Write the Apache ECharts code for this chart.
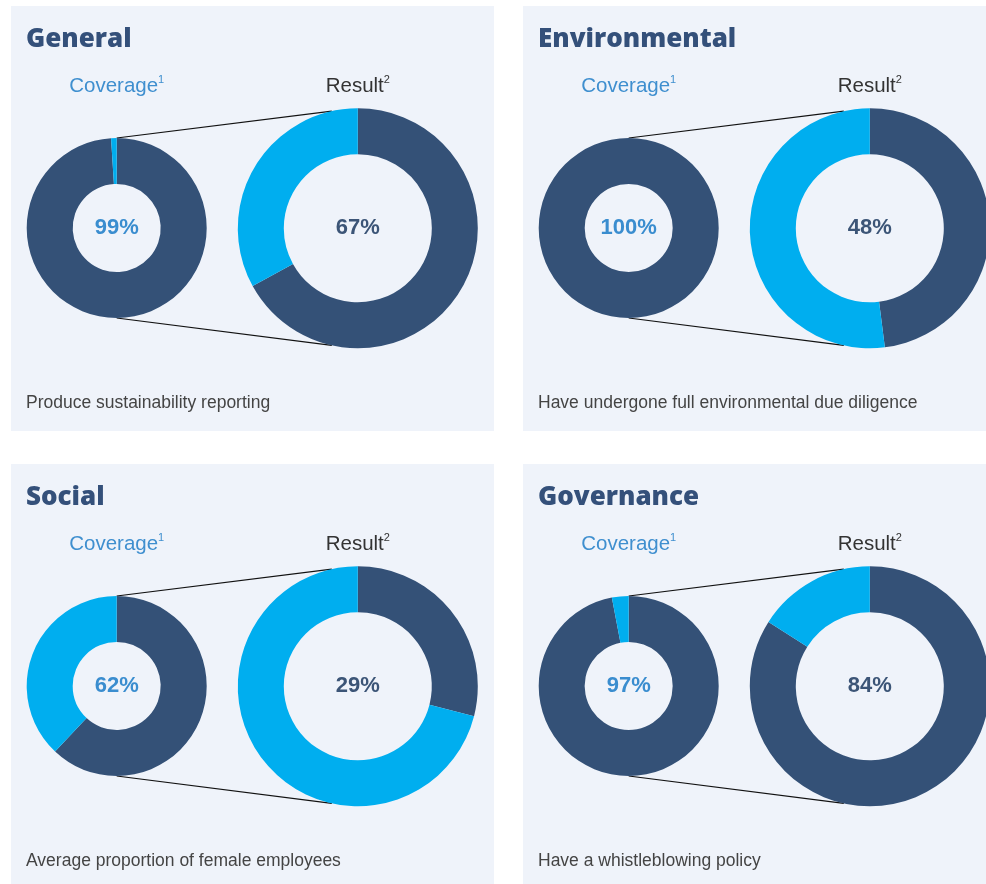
<!DOCTYPE html>
<html>
<head>
<meta charset="utf-8">
<script src="https://cdn.jsdelivr.net/npm/echarts@6/dist/echarts.min.js"></script>
<style>
  html, body { margin: 0; padding: 0; background: #ffffff; }
  #chart { width: 986px; height: 884px; }
</style>
</head>
<body>
<div id="chart"></div>
<script>
// ESG indicators: coverage of the portfolio and the result within it
const panelTitles = ['General', 'Environmental', 'Social', 'Governance'];
const descriptions = [
  'Produce sustainability reporting',
  'Have undergone full environmental due diligence',
  'Average proportion of female employees',
  'Have a whistleblowing policy'
];
const coverage = [99, 100, 62, 97];
const result = [67, 48, 29, 84];
const coverageLabel = 'Coverage';
const resultLabel = 'Result';

// layout
const NAVY = '#345177';
const CYAN = '#00aeef';
const PANEL_BG = '#eff3fa';
const origins = [[11, 6], [523, 6], [11, 464], [523, 464]];
const panelW = [483, 463, 483, 463];
const panelH = [425, 425, 420, 420];
const SMALL = { dx: 105.7, dy: 222, r0: 44, r1: 90 };
const BIG = { dx: 346.8, dy: 222.3, r0: 74, r1: 120 };
const CONNECT_ANGLE = 12.5 * Math.PI / 180;

const chart = echarts.init(document.getElementById('chart'), null, { renderer: 'canvas' });

const series = [];
const graphics = [];

function headerText(x, y, main, sup, color) {
  return {
    type: 'text', x: x, y: y,
    style: {
      text: '{m|' + main + '}{s|' + sup + '}',
      align: 'center', verticalAlign: 'middle',
      rich: {
        m: { fontSize: 20.5, fontFamily: 'Liberation Sans', fill: color, lineHeight: 24 },
        s: { fontSize: 11, fontFamily: 'Liberation Sans', fill: color, verticalAlign: 'top', lineHeight: 24, padding: [0, 0, 4, 0] }
      }
    }
  };
}

panelTitles.forEach((title, i) => {
  const [ox, oy] = origins[i];
  const sc = [ox + SMALL.dx, oy + SMALL.dy];
  const bc = [ox + BIG.dx, oy + BIG.dy];

  graphics.push({
    type: 'rect', z: -10,
    shape: { x: ox, y: oy, width: panelW[i], height: panelH[i] },
    style: { fill: PANEL_BG }
  });
  graphics.push({
    type: 'text', x: ox + 15, y: oy + 34,
    style: {
      text: title, fill: '#34507a',
      font: '800 26px "Open Sans", sans-serif',
      verticalAlign: 'middle'
    }
  });
  graphics.push(headerText(sc[0], oy + 80, coverageLabel, '1', '#3f8fcf'));
  graphics.push(headerText(bc[0], oy + 80, resultLabel, '2', '#333333'));
  graphics.push({
    type: 'text', x: ox + 15, y: oy + 397,
    style: {
      text: descriptions[i], fill: '#444444',
      font: '17.5px "Liberation Sans", sans-serif',
      verticalAlign: 'middle'
    }
  });

  // connector lines from the small ring to the large ring
  const ex = bc[0] - BIG.r1 * Math.sin(CONNECT_ANGLE);
  const eyTop = bc[1] - BIG.r1 * Math.cos(CONNECT_ANGLE);
  const eyBot = bc[1] + BIG.r1 * Math.cos(CONNECT_ANGLE);
  graphics.push({
    type: 'line', z: -5,
    shape: { x1: sc[0], y1: sc[1] - SMALL.r1, x2: ex, y2: eyTop },
    style: { stroke: '#111111', lineWidth: 1.2 }
  });
  graphics.push({
    type: 'line', z: -5,
    shape: { x1: sc[0], y1: sc[1] + SMALL.r1, x2: ex, y2: eyBot },
    style: { stroke: '#111111', lineWidth: 1.2 }
  });

  const ringSeries = (center, r, value, labelColor) => ({
    type: 'pie',
    center: center,
    radius: [r.r0, r.r1],
    startAngle: 90,
    clockwise: true,
    silent: true,
    animation: false,
    avoidLabelOverlap: false,
    labelLine: { show: false },
    itemStyle: { borderWidth: 0 },
    emphasis: { disabled: true },
    data: [
      {
        value: value,
        itemStyle: { color: NAVY },
        label: {
          show: true, position: 'center',
          formatter: '{c}%',
          fontFamily: 'Liberation Sans', fontWeight: 'bold', fontSize: 22,
          color: labelColor
        }
      },
      {
        value: 100 - value,
        itemStyle: { color: CYAN },
        label: { show: false }
      }
    ]
  });

  series.push(ringSeries(sc, SMALL, coverage[i], '#3a8dcf'));
  series.push(ringSeries(bc, BIG, result[i], '#3c5577'));
});

chart.setOption({
  backgroundColor: '#ffffff',
  animation: false,
  graphic: { elements: graphics },
  series: series
});
</script>
</body>
</html>
